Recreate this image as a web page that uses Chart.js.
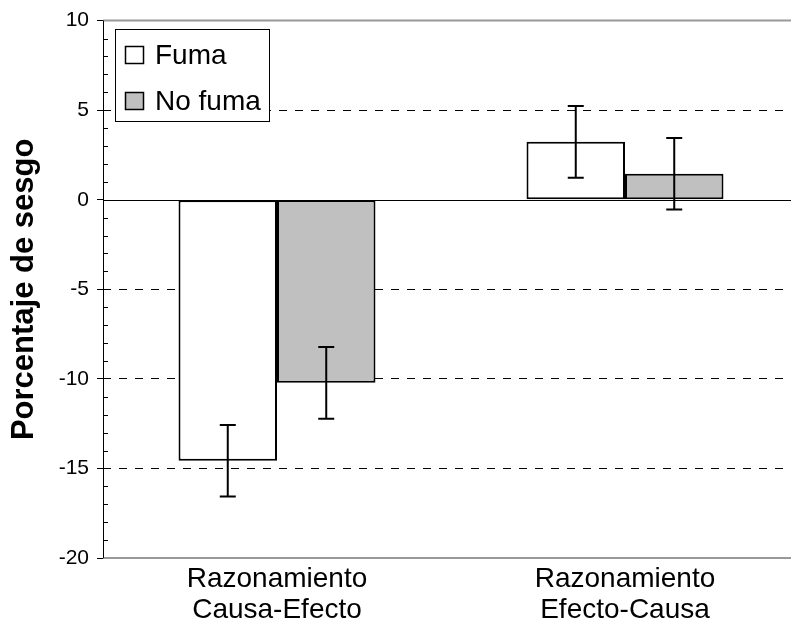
<!DOCTYPE html>
<html>
<head>
<meta charset="utf-8">
<script src="https://cdn.jsdelivr.net/npm/chart.js@4.4.1/dist/chart.umd.min.js"></script>
<style>
html,body{margin:0;padding:0;background:#fff;overflow:hidden;}
#wrap{width:791px;height:631px;position:relative;overflow:hidden;}
</style>
</head>
<body>
<div id="wrap"><canvas id="c" width="799" height="631"></canvas></div>
<script>
const categories = [["Razonamiento","Causa-Efecto"],["Razonamiento","Efecto-Causa"]];
const seriesNames = ["Fuma","No fuma"];
const fumaValues = [-14.57, 3.23];
const noFumaValues = [-10.22, 1.45];
const fumaErrors = [2.0, 2.0];
const noFumaErrors = [2.0, 2.0];
const yTicks = [10,5,0,-5,-10,-15,-20];

const FONT = "'Liberation Sans', Arial, sans-serif";

const errorBarPlugin = {
  id: 'errorBars',
  afterDatasetsDraw(chart) {
    const ctx = chart.ctx;
    const y = chart.scales.y;
    const errs = [fumaErrors, noFumaErrors];
    chart.data.datasets.forEach((ds, di) => {
      const meta = chart.getDatasetMeta(di);
      meta.data.forEach((bar, i) => {
        const v = ds.data[i], e = errs[di][i];
        const yt = y.getPixelForValue(v + e), yb = y.getPixelForValue(v - e);
        const x = bar.x;
        ctx.save();
        ctx.strokeStyle = '#000'; ctx.lineWidth = 2;
        ctx.beginPath();
        ctx.moveTo(x, yt); ctx.lineTo(x, yb);
        ctx.moveTo(x-8, yt); ctx.lineTo(x+8, yt);
        ctx.moveTo(x-8, yb); ctx.lineTo(x+8, yb);
        ctx.stroke();
        ctx.restore();
      });
    });
  }
};

const framePlugin = {
  id: 'frame',
  beforeDatasetsDraw(chart) {
    const ctx = chart.ctx, a = chart.chartArea, y = chart.scales.y;
    ctx.save();
    const y0 = Math.round(y.getPixelForValue(0)) + 0.5;
    ctx.strokeStyle = '#000'; ctx.lineWidth = 1;
    ctx.beginPath(); ctx.moveTo(a.left, y0); ctx.lineTo(a.right, y0); ctx.stroke();
    ctx.restore();
  },
  afterDraw(chart) {
    const ctx = chart.ctx, a = chart.chartArea, y = chart.scales.y;
    ctx.save();
    ctx.strokeStyle = '#999'; ctx.lineWidth = 2;
    ctx.beginPath();
    ctx.moveTo(a.left, a.top); ctx.lineTo(a.right, a.top);
    ctx.moveTo(a.left, a.bottom); ctx.lineTo(a.right, a.bottom);
    ctx.stroke();
    ctx.strokeStyle = '#000'; ctx.lineWidth = 1;
    ctx.beginPath();
    ctx.moveTo(a.left + 0.5, a.top); ctx.lineTo(a.left + 0.5, a.bottom);
    for (let v = y.min; v <= y.max; v += 1) {
      if (v % 5 === 0) continue;
      const py = Math.round(y.getPixelForValue(v)) + 0.5;
      ctx.moveTo(a.left, py); ctx.lineTo(a.left + 5, py);
    }
    ctx.stroke();
    // legend
    const lx = 115, ly = 29, lw = 154, lh = 92;
    ctx.fillStyle = '#fff';
    ctx.fillRect(lx, ly, lw, lh);
    ctx.strokeStyle = '#000'; ctx.lineWidth = 1;
    ctx.strokeRect(lx + 0.5, ly + 0.5, lw, lh);
    const fills = ['#ffffff', '#c0c0c0'];
    ctx.font = '28px ' + FONT;
    ctx.textBaseline = 'alphabetic';
    seriesNames.forEach((n, i) => {
      const cy = ly + 25 + i * 46;
      ctx.fillStyle = fills[i];
      ctx.fillRect(lx + 10, cy - 8, 18, 17);
      ctx.strokeStyle = '#000'; ctx.lineWidth = 1.5;
      ctx.strokeRect(lx + 10.5, cy - 7.5, 18, 17);
      ctx.fillStyle = '#000';
      ctx.fillText(n, lx + 40, cy + 10);
    });
    ctx.restore();
  }
};

new Chart(document.getElementById('c'), {
  type: 'bar',
  data: {
    labels: categories,
    datasets: [
      { label: seriesNames[0], data: fumaValues, backgroundColor: '#ffffff', borderColor: '#000', borderWidth: 2, borderSkipped: false },
      { label: seriesNames[1], data: noFumaValues, backgroundColor: '#c0c0c0', borderColor: '#000', borderWidth: 2, borderSkipped: false }
    ]
  },
  options: {
    responsive: false,
    animation: false,
    devicePixelRatio: 1,
    layout: { padding: { left: 0, right: 0, top: 19, bottom: 0 } },
    categoryPercentage: 0.566,
    barPercentage: 1.0,
    plugins: { legend: { display: false }, tooltip: { enabled: false } },
    scales: {
      x: {
        grid: { display: false, drawTicks: false },
        border: { display: false },
        ticks: { color: '#000', font: { family: FONT, size: 28, lineHeight: 1.1 }, padding: 6, maxRotation: 0, autoSkip: false },
        afterFit(s) { s.height = 73; }
      },
      y: {
        min: -20, max: 10,
        afterBuildTicks(s) { s.ticks = yTicks.map(v => ({ value: v })); },
        ticks: { color: '#000', font: { family: FONT, size: 21 }, padding: 8, callback: v => String(v) },
        grid: {
          color: ctx => (ctx.tick && (ctx.tick.value === 10 || ctx.tick.value === -20 || ctx.tick.value === 0)) ? 'rgba(0,0,0,0)' : '#000',
          tickColor: '#000',
          tickLength: 6,
          lineWidth: 1
        },
        border: { display: false, dash: [8, 8] },
        title: { display: true, text: 'Porcentaje de sesgo', color: '#000', font: { family: FONT, size: 31, weight: 'bold' }, padding: { top: 6, bottom: 0 } },
        afterFit(s) { s.width = 103; }
      }
    }
  },
  plugins: [framePlugin, errorBarPlugin]
});
</script>
</body>
</html>
